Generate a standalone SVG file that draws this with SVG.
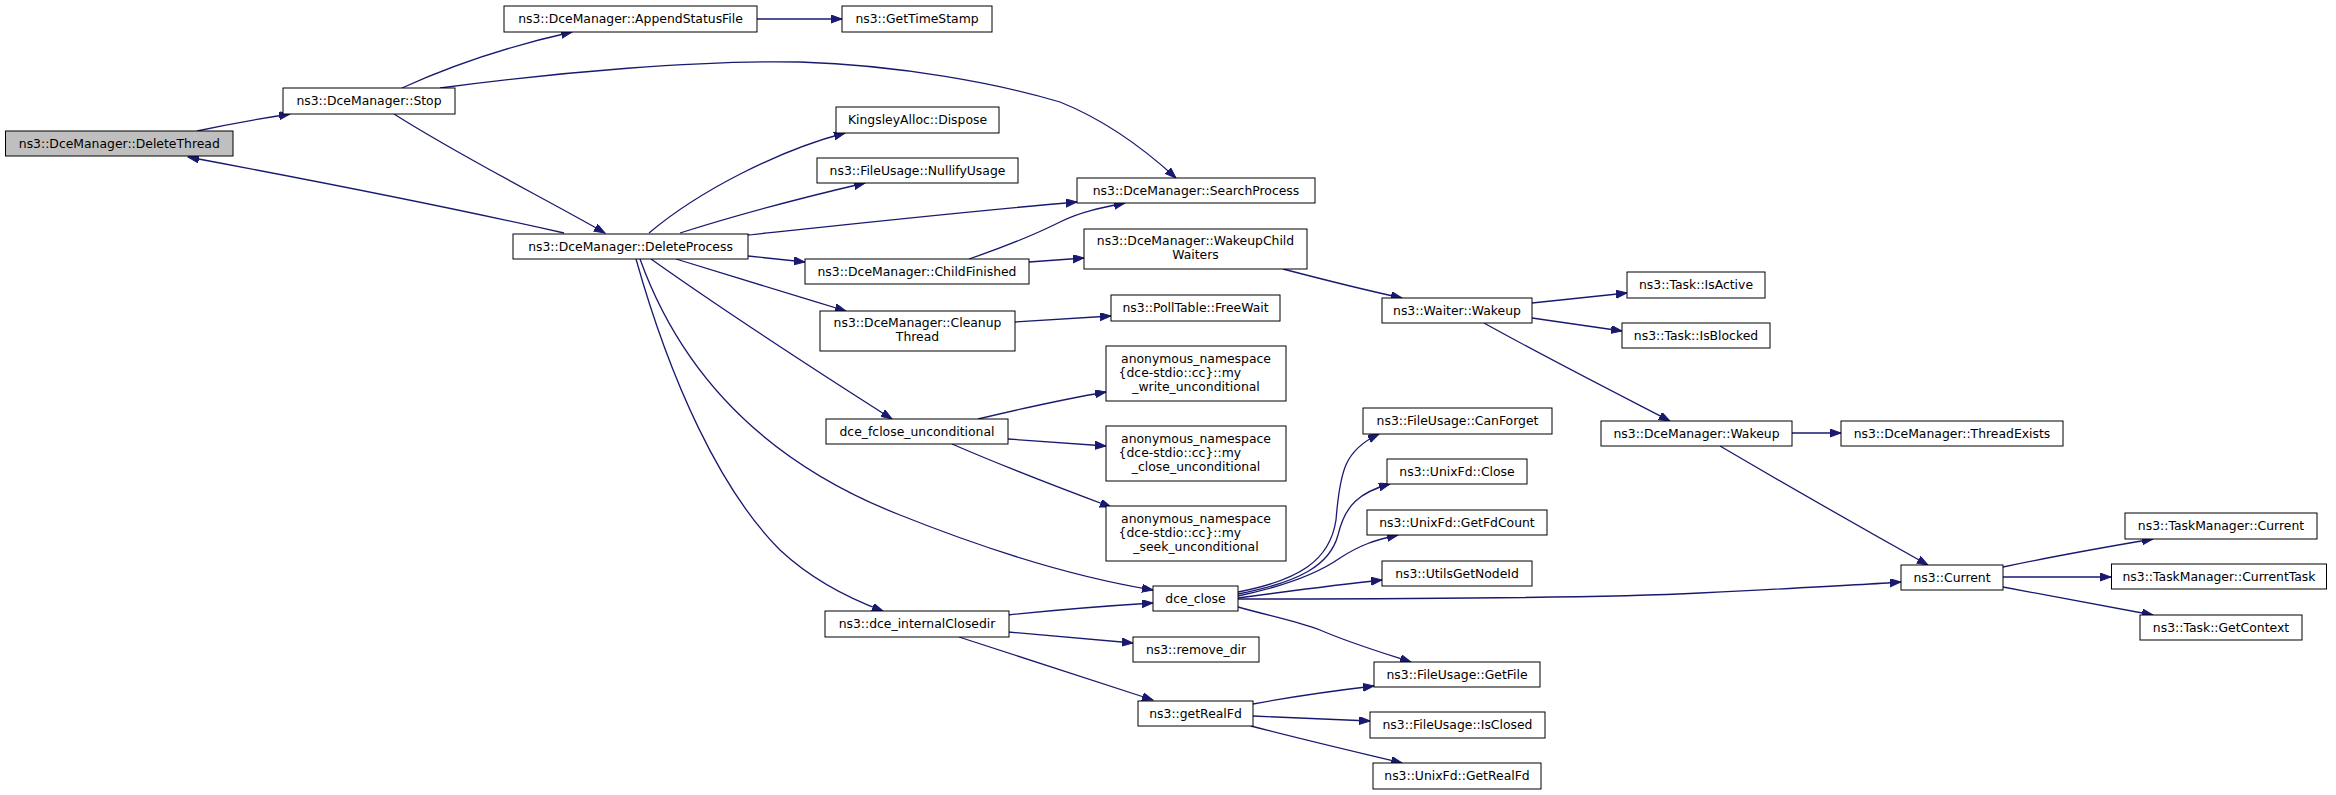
<svg xmlns="http://www.w3.org/2000/svg" width="2336" height="795" viewBox="0 0 2336 795">
<style>
.n rect{fill:#fff;stroke:#000;stroke-width:1}
.n.hl rect{fill:#bfbfbf}
.n text{font-family:"DejaVu Sans","Liberation Sans",sans-serif;font-size:12.4px;fill:#000;text-anchor:middle}
.n text.l{text-anchor:start}
.e path{fill:none;stroke:#191970;stroke-width:1.3;marker-end:url(#ah)}
</style>
<defs>
<marker id="ah" markerUnits="userSpaceOnUse" markerWidth="12" markerHeight="10" refX="11" refY="4" orient="auto">
<path d="M0,0 L11,4 L0,8 Z" fill="#191970" stroke="#191970" stroke-width="1"/>
</marker>
</defs>
<rect width="2336" height="795" fill="#fff"/>
<g id="edges" class="e">
<path d="M197,131 C225,125 258,119 290,114"/>
<path d="M564,233 C440,205 300,178 188,157"/>
<path d="M402,88 C450,66 505,47 572,32"/>
<path d="M757,19 L842,19"/>
<path d="M440,88 C560,72 700,60 800,62 C900,65 1000,84 1060,102 C1100,118 1140,145 1176,178"/>
<path d="M394,114 C460,156 540,196 605,233"/>
<path d="M649,233 C700,190 780,150 845,133"/>
<path d="M680,233 C740,214 805,197 865,183"/>
<path d="M748,235 C860,223 970,211 1077,202"/>
<path d="M969,259 C1010,245 1040,232 1060,222 C1080,212 1100,208 1125,203"/>
<path d="M748,256 L805,262"/>
<path d="M1029,262 L1084,258"/>
<path d="M676,259 C735,277 790,294 846,311"/>
<path d="M1015,322 L1111,316"/>
<path d="M651,259 C730,315 815,370 892,419"/>
<path d="M640,259 C680,370 760,460 900,515 C1000,555 1080,578 1153,590"/>
<path d="M636,259 C670,380 720,490 780,550 C810,578 845,597 883,611"/>
<path d="M978,419 C1020,409 1065,399 1106,392"/>
<path d="M1008,439 L1106,446"/>
<path d="M952,444 C1005,467 1060,488 1111,507"/>
<path d="M1283,269 C1325,280 1365,290 1402,298"/>
<path d="M1532,303 L1627,293"/>
<path d="M1532,318 L1622,331"/>
<path d="M1484,323 C1545,357 1610,390 1670,421"/>
<path d="M1792,433 L1841,433"/>
<path d="M1720,446 C1790,487 1860,527 1928,565"/>
<path d="M1238,599 C1400,599 1600,598 1700,593 C1800,588 1860,585 1901,582"/>
<path d="M2003,567 C2050,557 2100,548 2153,539"/>
<path d="M2003,577 L2111,577"/>
<path d="M2003,587 C2050,596 2100,605 2153,615"/>
<path d="M1238,592 C1300,580 1330,560 1336,520 C1340,470 1345,450 1379,434"/>
<path d="M1238,594 C1300,582 1330,565 1338,535 C1345,505 1360,492 1390,484"/>
<path d="M1238,596 C1290,585 1320,572 1340,558 C1360,545 1375,540 1398,535"/>
<path d="M1238,598 C1290,591 1335,585 1382,580"/>
<path d="M1238,607 C1270,616 1300,622 1320,630 C1350,643 1380,652 1411,662"/>
<path d="M1008,615 C1055,610 1105,606 1153,603"/>
<path d="M1008,632 L1133,643"/>
<path d="M959,637 C1025,658 1090,680 1153,700"/>
<path d="M1253,704 C1290,697 1332,691 1374,686"/>
<path d="M1253,716 L1370,721"/>
<path d="M1251,726 C1300,739 1352,751 1402,763"/>
</g>
<g id="DeleteThread" class="n hl"><rect x="5.5" y="131" width="227.5" height="25"/><text x="119.3" y="147.8">ns3::DceManager::DeleteThread</text></g>
<g id="Stop" class="n"><rect x="283" y="88" width="172" height="26"/><text x="369" y="105.3">ns3::DceManager::Stop</text></g>
<g id="AppendStatusFile" class="n"><rect x="504" y="6" width="253" height="26"/><text x="630.5" y="23.3">ns3::DceManager::AppendStatusFile</text></g>
<g id="GetTimeStamp" class="n"><rect x="842" y="6" width="150" height="26"/><text x="917" y="23.3">ns3::GetTimeStamp</text></g>
<g id="Dispose" class="n"><rect x="836" y="107" width="163" height="26"/><text x="917.5" y="124.3">KingsleyAlloc::Dispose</text></g>
<g id="NullifyUsage" class="n"><rect x="817" y="158" width="201" height="25"/><text x="917.5" y="174.8">ns3::FileUsage::NullifyUsage</text></g>
<g id="SearchProcess" class="n"><rect x="1077" y="178" width="238" height="25"/><text x="1196" y="194.8">ns3::DceManager::SearchProcess</text></g>
<g id="DeleteProcess" class="n"><rect x="513" y="234" width="235" height="25"/><text x="630.5" y="250.8">ns3::DceManager::DeleteProcess</text></g>
<g id="ChildFinished" class="n"><rect x="805" y="259" width="224" height="25"/><text x="917" y="275.8">ns3::DceManager::ChildFinished</text></g>
<g id="WakeupChildWaiters" class="n"><rect x="1084" y="229" width="223" height="40"/><text x="1195.5" y="245.3">ns3::DceManager::WakeupChild</text><text x="1195.5" y="259.3">Waiters</text></g>
<g id="CleanupThread" class="n"><rect x="820" y="311" width="195" height="40"/><text x="917.5" y="327">ns3::DceManager::Cleanup</text><text x="917.5" y="341">Thread</text></g>
<g id="FreeWait" class="n"><rect x="1111" y="295" width="169" height="26"/><text x="1195.5" y="312.3">ns3::PollTable::FreeWait</text></g>
<g id="my_write_unconditional" class="n"><rect x="1106" y="346" width="180" height="55"/><text x="1196" y="362.5">anonymous_namespace</text><text class="l" x="1118.6" y="377">{dce-stdio::cc}::my</text><text x="1196" y="391">_write_unconditional</text></g>
<g id="my_close_unconditional" class="n"><rect x="1106" y="426" width="180" height="55"/><text x="1196" y="442.5">anonymous_namespace</text><text class="l" x="1118.6" y="457">{dce-stdio::cc}::my</text><text x="1196" y="471">_close_unconditional</text></g>
<g id="my_seek_unconditional" class="n"><rect x="1106" y="506" width="180" height="55"/><text x="1196" y="522.5">anonymous_namespace</text><text class="l" x="1118.6" y="537">{dce-stdio::cc}::my</text><text x="1196" y="551">_seek_unconditional</text></g>
<g id="dce_fclose_unconditional" class="n"><rect x="826" y="419" width="182" height="25"/><text x="917" y="435.8">dce_fclose_unconditional</text></g>
<g id="WaiterWakeup" class="n"><rect x="1382" y="298" width="150" height="25"/><text x="1457" y="314.8">ns3::Waiter::Wakeup</text></g>
<g id="IsActive" class="n"><rect x="1627" y="272" width="138" height="26"/><text x="1696" y="289.3">ns3::Task::IsActive</text></g>
<g id="IsBlocked" class="n"><rect x="1622" y="323" width="148" height="25"/><text x="1696" y="339.8">ns3::Task::IsBlocked</text></g>
<g id="DceWakeup" class="n"><rect x="1601" y="421" width="191" height="25"/><text x="1696.5" y="437.8">ns3::DceManager::Wakeup</text></g>
<g id="ThreadExists" class="n"><rect x="1841" y="421" width="222" height="25"/><text x="1952" y="437.8">ns3::DceManager::ThreadExists</text></g>
<g id="CanForget" class="n"><rect x="1363" y="408" width="189" height="26"/><text x="1457.5" y="425.3">ns3::FileUsage::CanForget</text></g>
<g id="UnixFdClose" class="n"><rect x="1387" y="459" width="140" height="25"/><text x="1457" y="475.8">ns3::UnixFd::Close</text></g>
<g id="GetFdCount" class="n"><rect x="1367" y="510" width="180" height="25"/><text x="1457" y="526.8">ns3::UnixFd::GetFdCount</text></g>
<g id="UtilsGetNodeId" class="n"><rect x="1382" y="561" width="150" height="25"/><text x="1457" y="577.8">ns3::UtilsGetNodeId</text></g>
<g id="dce_close" class="n"><rect x="1153" y="586" width="85" height="25"/><text x="1195.5" y="602.8">dce_close</text></g>
<g id="Current" class="n"><rect x="1901" y="565" width="102" height="25"/><text x="1952" y="581.8">ns3::Current</text></g>
<g id="TaskManagerCurrent" class="n"><rect x="2125" y="513" width="192" height="26"/><text x="2221" y="530.3">ns3::TaskManager::Current</text></g>
<g id="CurrentTask" class="n"><rect x="2111.5" y="564" width="215" height="25"/><text x="2219" y="580.8">ns3::TaskManager::CurrentTask</text></g>
<g id="GetContext" class="n"><rect x="2140" y="615" width="162" height="25"/><text x="2221" y="631.8">ns3::Task::GetContext</text></g>
<g id="dce_internalClosedir" class="n"><rect x="825" y="611" width="184" height="26"/><text x="917" y="628.3">ns3::dce_internalClosedir</text></g>
<g id="remove_dir" class="n"><rect x="1133" y="637" width="126" height="25"/><text x="1196" y="653.8">ns3::remove_dir</text></g>
<g id="getRealFd" class="n"><rect x="1138" y="701" width="115" height="25"/><text x="1195.5" y="717.8">ns3::getRealFd</text></g>
<g id="GetFile" class="n"><rect x="1374" y="662" width="166" height="25"/><text x="1457" y="678.8">ns3::FileUsage::GetFile</text></g>
<g id="IsClosed" class="n"><rect x="1370" y="712" width="175" height="26"/><text x="1457.5" y="729.3">ns3::FileUsage::IsClosed</text></g>
<g id="UnixFdGetRealFd" class="n"><rect x="1373" y="763" width="168" height="26"/><text x="1457" y="780.3">ns3::UnixFd::GetRealFd</text></g>
</svg>
